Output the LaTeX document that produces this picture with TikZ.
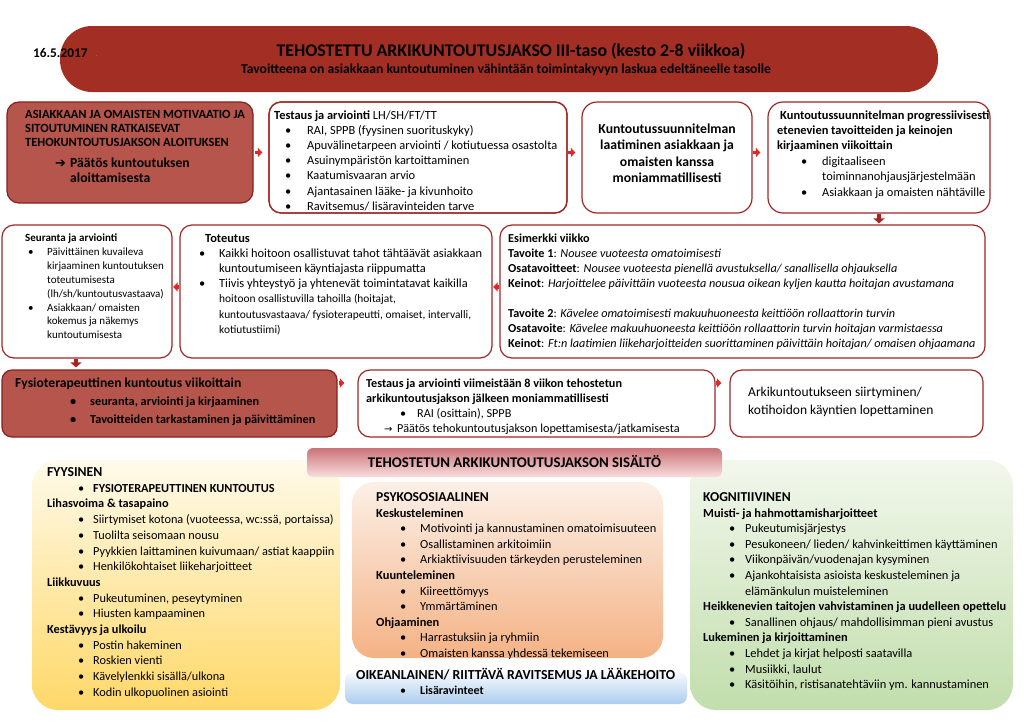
\documentclass[tikz,border=0pt]{standalone}
\usepackage{fontspec}
\setmainfont{Carlito}
\newfontfamily\dejavu{DejaVu Sans}
\usetikzlibrary{arrows.meta,calc}
\definecolor{banner}{RGB}{163,46,36}
\definecolor{boxred}{RGB}{181,85,75}
\definecolor{edge}{RGB}{160,38,38}
\definecolor{arrowred}{RGB}{225,40,40}
\definecolor{arrowdark}{RGB}{170,35,30}
\definecolor{ytop}{RGB}{255,250,234}
\definecolor{ybot}{RGB}{255,216,104}
\definecolor{otop}{RGB}{252,240,231}
\definecolor{obot}{RGB}{244,178,133}
\definecolor{gtop}{RGB}{242,247,236}
\definecolor{gbot}{RGB}{194,222,172}
\definecolor{btop}{RGB}{247,250,253}
\definecolor{bbot}{RGB}{172,205,238}
\definecolor{htop}{RGB}{203,115,120}
\definecolor{hbot}{RGB}{248,222,222}
\newcommand\fs[2]{\fontsize{#1pt}{#2pt}\selectfont}
\newcommand\rows[1]{\begin{tabular}[t]{@{}l@{}}#1\end{tabular}}
\newcommand\bul[3]{\hspace*{#1pt}\makebox[#2pt][l]{\textbullet}#3}
\newcommand\ind[1]{\hspace*{#1pt}}
\tikzset{
  outbox/.style={draw=edge, line width=1.2pt, fill=white, rounded corners=12pt, inner sep=0pt},
  redbox/.style={draw=edge!85!black, line width=1.2pt, fill=boxred, rounded corners=12pt, inner sep=0pt},
  softbox/.style={rounded corners=26pt, inner sep=0pt, draw=none},
  txt/.style={anchor=base west, inner sep=0pt, align=left},
  ctxt/.style={anchor=base, inner sep=0pt},
  rarrow/.style={draw=arrowred, line width=3.5pt, -{Triangle[length=4.5pt,width=9pt]}},
  darrow/.style={draw=arrowdark, line width=4pt, -{Triangle[length=5pt,width=11pt]}},
}
\begin{document}
\begin{tikzpicture}[x=1pt,y=-1pt]
\useasboundingbox (0,0) rectangle (1024,723);
% ---------- title ----------
\node[fill=banner, rounded corners=32pt, minimum width=878pt, minimum height=66pt, inner sep=0pt] (banner) at (499,59) {};
\node[txt, font=\bfseries\fs{13.3}{15}] (date) at (33,57) {16.5.2017};
\node[txt, text=banner!80!white, font=\fs{10}{12}] (dot) at (95,56) {.};
\node[ctxt, font=\bfseries\fs{17.8}{20}] (title) at (511,56.5) {TEHOSTETTU ARKIKUNTOUTUSJAKSO III-taso (kesto 2-8 viikkoa)};
\node[ctxt, font=\bfseries\fs{13.6}{16}] (subtitle) at (506,73.5) {Tavoitteena on asiakkaan kuntoutuminen vähintään toimintakyvyn laskua edeltäneelle tasolle};
% ---------- row 1 ----------
\node[redbox, minimum width=246pt, minimum height=101pt] (A) at (130,152.5) {};
\node[outbox, minimum width=298pt, minimum height=111pt] (B) at (418,157.5) {};
\node[outbox, rounded corners=15pt, minimum width=170pt, minimum height=111pt] (C) at (667,157.5) {};
\node[outbox, rounded corners=15pt, minimum width=222pt, minimum height=111pt] (D) at (879,157.5) {};
\node[txt, font=\bfseries\fs{12.5}{14.2}] (Atxt) at (25,118.5) {\rows{ASIAKKAAN JA OMAISTEN MOTIVAATIO JA\\SITOUTUMINEN RATKAISEVAT\\TEHOKUNTOUTUSJAKSON ALOITUKSEN}};
\node[txt, font=\bfseries\fs{13.7}{15.5}] (Atxt2) at (55,167) {\rows{\makebox[15pt][l]{\dejavu\fs{13}{15.5}\symbol{"2794}}Päätös kuntoutuksen\\\ind{15}aloittamisesta}};
\node[txt, font=\fs{12.4}{15.2}] (Btxt) at (274,119) {\rows{\textbf{Testaus ja arviointi} LH/SH/FT/TT\\
\bul{11}{22}{RAI, SPPB (fyysinen suorituskyky)}\\
\bul{11}{22}{Apuvälinetarpeen arviointi / kotiutuessa osastolta}\\
\bul{11}{22}{Asuinympäristön kartoittaminen}\\
\bul{11}{22}{Kaatumisvaaran arvio}\\
\bul{11}{22}{Ajantasainen lääke- ja kivunhoito}\\
\bul{11}{22}{Ravitsemus/ lisäravinteiden tarve}}};
\node[draw=edge, line width=1.2pt, rounded corners=12pt, inner sep=0pt, minimum width=298pt, minimum height=111pt] (Bframe) at (B.center) {};
\node[ctxt, font=\bfseries\fs{13.7}{16.5}] (Ctxt) at (667,133) {\begin{tabular}[t]{@{}c@{}}Kuntoutussuunnitelman\\laatiminen asiakkaan ja\\omaisten kanssa\\moniammatillisesti\end{tabular}};
\node[txt, font=\fs{12.4}{15.4}] (Dtxt) at (777,119) {\rows{\ind{3}\textbf{Kuntoutussuunnitelman progressiivisesti}\\
\textbf{etenevien tavoitteiden ja keinojen}\\
\textbf{kirjaaminen viikoittain}\\
\bul{24}{21}{digitaaliseen}\\
\ind{45}toiminnanohjausjärjestelmään\\
\bul{24}{21}{Asiakkaan ja omaisten nähtäville}}};
% ---------- row 2 ----------
\node[outbox, minimum width=170pt, minimum height=133pt] (E) at (87,291.5) {};
\node[outbox, minimum width=312pt, minimum height=133pt] (F) at (336,291.5) {};
\node[outbox, minimum width=485pt, minimum height=133pt] (G) at (742.5,291.5) {};
\node[txt, font=\fs{11}{13.9}] (Etxt) at (25,241.5) {\rows{\textbf{Seuranta ja arviointi}\\
\bul{3}{19}{Päivittäinen kuvaileva}\\
\ind{22}kirjaaminen kuntoutuksen\\
\ind{22}toteutumisesta\\
\ind{22}(lh/sh/kuntoutusvastaava)\\
\bul{3}{19}{Asiakkaan/ omaisten}\\
\ind{22}kokemus ja näkemys\\
\ind{22}kuntoutumisesta}};
\node[txt, font=\fs{12.4}{15.2}] (Ftxt) at (199,242) {\rows{\ind{6}\textbf{Toteutus}\\
\bul{0}{20}{Kaikki hoitoon osallistuvat tahot tähtäävät asiakkaan}\\
\ind{20}kuntoutumiseen käyntiajasta riippumatta\\
\bul{0}{20}{Tiivis yhteystyö ja yhtenevät toimintatavat kaikilla}\\
\ind{20}{\fs{11.4}{15}hoitoon osallistuvilla tahoilla (hoitajat,}\\
\ind{20}{\fs{11.4}{15}kuntoutusvastaava/ fysioterapeutti, omaiset, intervalli,}\\
\ind{20}{\fs{11.4}{15}kotiutustiimi)}}};
\node[txt, font=\fs{12.2}{15}] (Gtxt) at (508,242) {\rows{\textbf{Esimerkki viikko}\\
\textbf{Tavoite 1}: \textit{Nousee vuoteesta omatoimisesti}\\
\textbf{Osatavoitteet}: \textit{Nousee vuoteesta pienellä avustuksella/ sanallisella ohjauksella}\\
\textbf{Keinot}: \textit{Harjoittelee päivittäin vuoteesta nousua oikean kyljen kautta hoitajan avustamana}\\
~\\
\textbf{Tavoite 2}: \textit{Kävelee omatoimisesti makuuhuoneesta keittiöön rollaattorin turvin}\\
\textbf{Osatavoite}: \textit{Kävelee makuuhuoneesta keittiöön rollaattorin turvin hoitajan varmistaessa}\\
\textbf{Keinot}: \textit{Ft:n laatimien liikeharjoitteiden suorittaminen päivittäin hoitajan/ omaisen ohjaamana}}};
% ---------- row 3 ----------
\node[redbox, rounded corners=10pt, minimum width=335pt, minimum height=67pt] (H) at (169.5,403.5) {};
\node[outbox, minimum width=357pt, minimum height=67pt] (I) at (536.5,403.5) {};
\node[outbox, minimum width=253pt, minimum height=67pt] (J) at (856.5,403.5) {};
\node[txt, font=\bfseries\fs{12.3}{18}] (Htxt) at (15,387.5) {\rows{{\fs{13.6}{18}Fysioterapeuttinen kuntoutus viikoittain}\\
\bul{55}{20}{seuranta, arviointi ja kirjaaminen}\\
\bul{55}{20}{Tavoitteiden tarkastaminen ja päivittäminen}}};
\node[txt, font=\fs{12.2}{15}] (Itxt) at (366,387) {\rows{\textbf{Testaus ja arviointi viimeistään 8 viikon tehostetun}\\
\textbf{arkikuntoutusjakson jälkeen moniammatillisesti}\\
\bul{34}{17}{RAI (osittain), SPPB}\\
\ind{18}\makebox[13pt][l]{\dejavu\fs{10}{15}→}Päätös tehokuntoutusjakson lopettamisesta/jatkamisesta}};
\node[txt, font=\fs{13.5}{18}] (Jtxt) at (748,396.5) {\rows{Arkikuntoutukseen siirtyminen/\\kotihoidon käyntien lopettaminen}};
% ---------- connectors ----------
\draw[rarrow, shorten <=1pt, shorten >=6pt] (A.east) -- (A.east -| B.west);
\draw[rarrow, shorten >=6pt] (B.east |- A.east) -- (C.west |- A.east);
\draw[rarrow, shorten >=7pt] (C.east |- A.east) -- (D.west |- A.east);
\draw[darrow, shorten >=1pt] (D.south) -- (D.south |- G.north);
\draw[rarrow, shorten >=0.5pt] ([yshift=4.5pt]G.west) -- ([yshift=4.5pt]G.west -| F.east);
\draw[rarrow, shorten >=0.5pt] ([yshift=4.5pt]F.west) -- ([yshift=4.5pt]F.west -| E.east);
\draw[darrow, shorten >=2pt] ([xshift=-11pt]E.south) -- ([xshift=-11pt]E.south |- H.north);
\draw[rarrow, shorten <=1pt, shorten >=13pt] ([yshift=20.5pt]H.east) -- ([yshift=20.5pt]H.east -| I.west);
\draw[rarrow, shorten <=0.5pt, shorten >=8pt] ([yshift=20.5pt]I.east) -- ([yshift=20.5pt]I.east -| J.west);
% ---------- content section ----------
\node[softbox, top color=ytop, bottom color=ybot, minimum width=308pt, minimum height=250pt] (Y) at (186,585) {};
\node[softbox, top color=gtop, bottom color=gbot, minimum width=323pt, minimum height=250pt] (Gr) at (851.5,585) {};
\node[softbox, rounded corners=22pt, top color=otop, bottom color=obot, minimum width=311pt, minimum height=176pt] (O) at (507.5,570) {};
\node[softbox, rounded corners=8pt, top color=btop, bottom color=bbot, minimum width=342pt, minimum height=32pt] (Bl) at (516,688) {};
\node[softbox, rounded corners=6pt, top color=htop, bottom color=hbot, minimum width=415pt, minimum height=29pt] (Hd) at (514.5,462.5) {};
\node[ctxt, font=\bfseries\fs{14.8}{17}] (Hdtxt) at (514.5,467.5) {TEHOSTETUN ARKIKUNTOUTUSJAKSON SISÄLTÖ};
\node[txt, font=\fs{12.3}{15.7}] (Ytxt) at (47,476.5) {\rows{{\bfseries\fs{13.7}{15.7}FYYSINEN}\\
\bul{31}{15}{\textbf{FYSIOTERAPEUTTINEN KUNTOUTUS}}\\
\textbf{Lihasvoima \& tasapaino}\\
\bul{31}{15}{Siirtymiset kotona (vuoteessa, wc:ssä, portaissa)}\\
\bul{31}{15}{Tuolilta seisomaan nousu}\\
\bul{31}{15}{Pyykkien laittaminen kuivumaan/ astiat kaappiin}\\
\bul{31}{15}{Henkilökohtaiset liikeharjoitteet}\\
\textbf{Liikkuvuus}\\
\bul{31}{15}{Pukeutuminen, peseytyminen}\\
\bul{31}{15}{Hiusten kampaaminen}\\
\textbf{Kestävyys ja ulkoilu}\\
\bul{31}{15}{Postin hakeminen}\\
\bul{31}{15}{Roskien vienti}\\
\bul{31}{15}{Kävelylenkki sisällä/ulkona}\\
\bul{31}{15}{Kodin ulkopuolinen asiointi}}};
\node[txt, font=\fs{12.4}{15.6}] (Otxt) at (376,501.5) {\rows{{\bfseries\fs{13.6}{15.6}PSYKOSOSIAALINEN}\\
\textbf{Keskusteleminen}\\
\bul{24}{20}{Motivointi ja kannustaminen omatoimisuuteen}\\
\bul{24}{20}{Osallistaminen arkitoimiin}\\
\bul{24}{20}{Arkiaktiivisuuden tärkeyden perusteleminen}\\
\textbf{Kuunteleminen}\\
\bul{24}{20}{Kiireettömyys}\\
\bul{24}{20}{Ymmärtäminen}\\
\textbf{Ohjaaminen}\\
\bul{24}{20}{Harrastuksiin ja ryhmiin}\\
\bul{24}{20}{Omaisten kanssa yhdessä tekemiseen}}};
\node[txt, font=\fs{12}{15}] (Bltxt) at (356,679) {\rows{{\bfseries\fs{13.8}{15}OIKEANLAINEN/ RIITTÄVÄ RAVITSEMUS JA LÄÄKEHOITO}\\
\bul{44}{20}{\textbf{Lisäravinteet}}}};
\node[txt, font=\fs{12.4}{15.6}] (Grtxt) at (703,501.5) {\rows{{\bfseries\fs{13.6}{15.6}KOGNITIIVINEN}\\
\textbf{Muisti- ja hahmottamisharjoitteet}\\
\bul{26}{16}{Pukeutumisjärjestys}\\
\bul{26}{16}{Pesukoneen/ lieden/ kahvinkeittimen käyttäminen}\\
\bul{26}{16}{Viikonpäivän/vuodenajan kysyminen}\\
\bul{26}{16}{Ajankohtaisista asioista keskusteleminen ja}\\
\ind{42}elämänkulun muisteleminen\\
\textbf{Heikkenevien taitojen vahvistaminen ja uudelleen opettelu}\\
\bul{26}{16}{Sanallinen ohjaus/ mahdollisimman pieni avustus}\\
\textbf{Lukeminen ja kirjoittaminen}\\
\bul{26}{16}{Lehdet ja kirjat helposti saatavilla}\\
\bul{26}{16}{Musiikki, laulut}\\
\bul{26}{16}{Käsitöihin, ristisanatehtäviin ym. kannustaminen}}};
\end{tikzpicture}
\end{document}
